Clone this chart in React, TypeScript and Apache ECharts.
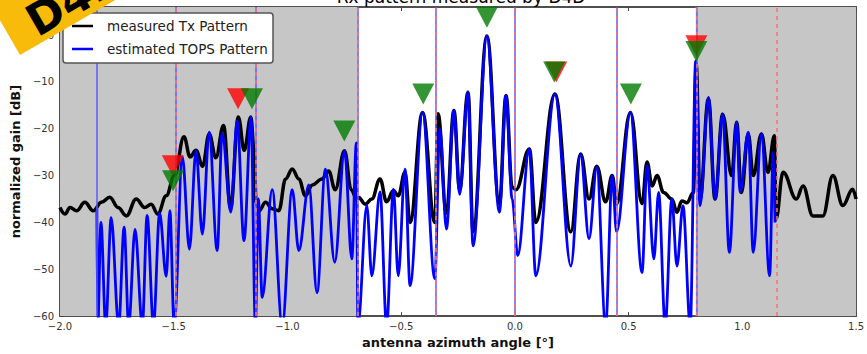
import React, { useEffect, useRef } from 'react';
import * as echarts from 'echarts';

// ---------- data ----------
const titleText = 'Rx pattern measured by D4D';
const legendNames = ['measured Tx Pattern', 'estimated TOPS Pattern'];

// estimated TOPS pattern (blue) : [azimuth deg, dB]
const topsPattern: [number, number][] = [
  [-1.838, -37], [-1.834, -62],
  [-1.82, -40], [-1.799, -62],
  [-1.775, -39], [-1.742, -62],
  [-1.718, -41], [-1.698, -62],
  [-1.67, -41.5], [-1.638, -62],
  [-1.617, -38.5], [-1.589, -62],
  [-1.562, -38], [-1.533, -51.5],
  [-1.517, -37.5], [-1.498, -62],
  [-1.462, -26], [-1.431, -45.7],
  [-1.402, -24.7], [-1.374, -42.5],
  [-1.344, -20.7], [-1.309, -46],
  [-1.287, -21], [-1.249, -37.8],
  [-1.221, -18.3], [-1.191, -43.9],
  [-1.16, -17.5], [-1.141, -62],
  [-1.128, -35], [-1.111, -56],
  [-1.067, -33], [-1.023, -62],
  [-0.979, -33], [-0.95, -46],
  [-0.906, -32], [-0.87, -55],
  [-0.833, -28.6], [-0.792, -48.5],
  [-0.749, -24.7], [-0.717, -47.8],
  [-0.697, -23], [-0.69, -62],
  [-0.651, -36.4], [-0.629, -51.4],
  [-0.593, -33.5], [-0.564, -62],
  [-0.534, -32.9], [-0.513, -51.4],
  [-0.483, -28.6], [-0.461, -53.5],
  [-0.406, -16.5], [-0.352, -52],
  [-0.33, -20], [-0.301, -41.4],
  [-0.268, -16.1], [-0.243, -34],
  [-0.206, -12.2], [-0.184, -45],
  [-0.123, -0.2], [-0.068, -37.8],
  [-0.039, -12.9], [-0.012, -35],
  [0.0125, -47.1],
  [0.0635, -24.3], [0.092, -51.4],
  [0.176, -12.6], [0.246, -49.3],
  [0.289, -25.4], [0.326, -43.5],
  [0.36, -28.2], [0.399, -62],
  [0.428, -30], [0.447, -42],
  [0.508, -16.5], [0.559, -50.7],
  [0.581, -27.9], [0.611, -47.8],
  [0.632, -33.6], [0.661, -62],
  [0.69, -35], [0.7125, -49.3],
  [0.739, -36.4], [0.771, -62],
  [0.795, -5.5], [0.814, -36.4],
  [0.851, -13.3], [0.88, -35],
  [0.9135, -16.8], [0.943, -46.4],
  [0.975, -18.6], [0.99, -33.6],
  [1.026, -20.7], [1.048, -46.4],
  [1.084, -21.1], [1.12, -51.4],
  [1.136, -25], [1.144, -40],
];

// measured Tx pattern (black)
const measuredPattern: [number, number][] = [
  [-2.0, -36.8], [-1.978, -38.2], [-1.956, -36.8], [-1.927, -37.5], [-1.891, -35.7],
  [-1.854, -37.5], [-1.818, -35.7], [-1.781, -34.6], [-1.745, -36.8], [-1.708, -38.6],
  [-1.665, -35], [-1.628, -36.8], [-1.599, -36.1], [-1.57, -38.2], [-1.533, -34.3],
  [-1.497, -30], [-1.455, -21.7], [-1.428, -26], [-1.402, -24.6], [-1.373, -28],
  [-1.344, -21.1], [-1.315, -26.2], [-1.281, -19.3], [-1.25, -37], [-1.216, -17.5],
  [-1.19, -24.6], [-1.161, -17.5], [-1.146, -25], [-1.138, -35.7],
  [-1.125, -37.5], [-1.096, -35.7], [-1.067, -37.1], [-1.038, -37.5], [-1.008, -30.7],
  [-0.979, -28.6], [-0.95, -30.7], [-0.921, -34.3], [-0.89, -32], [-0.848, -30.7],
  [-0.819, -29], [-0.79, -33], [-0.749, -24.7], [-0.72, -33], [-0.695, -35],
  [-0.688, -34.6], [-0.658, -36.1], [-0.629, -35], [-0.593, -30.7], [-0.564, -35.6],
  [-0.534, -33.2], [-0.513, -34.3], [-0.483, -29.3], [-0.461, -40], [-0.406, -16.5],
  [-0.352, -40], [-0.338, -16.8], [-0.301, -38], [-0.268, -16.1], [-0.243, -33],
  [-0.206, -12.2], [-0.184, -42], [-0.123, -0.2], [-0.068, -36], [-0.039, -12.9],
  [-0.012, -32.5], [0.005, -33], [0.0635, -24.3], [0.092, -40], [0.176, -12.6],
  [0.246, -42], [0.289, -25.4], [0.326, -35], [0.36, -28], [0.399, -35.6],
  [0.428, -30], [0.447, -36], [0.508, -16.5], [0.559, -36], [0.581, -27.1],
  [0.6035, -32.2], [0.625, -30], [0.654, -33.6], [0.69, -35], [0.7125, -37.8],
  [0.734, -35.4], [0.756, -35.8], [0.785, -33.6], [0.797, -6], [0.814, -35],
  [0.851, -13.6], [0.88, -35], [0.9135, -16.9], [0.953, -30], [0.975, -18.6],
  [0.996, -33.6], [1.026, -21.1], [1.048, -30], [1.084, -21.1], [1.1125, -29.3],
  [1.141, -21.5], [1.148, -39.3], [1.179, -29.3], [1.2375, -35], [1.267, -32.2],
  [1.31, -38.6], [1.354, -38.6], [1.398, -30], [1.442, -36.4], [1.485, -32.9],
  [1.5, -35],
];

const greenMarkers: [number, number][] = [
  [-1.503, -31.1], [-1.156, -13.6], [-0.75, -20.5], [-0.403, -12.6],
  [-0.123, 3.8], [0.173, -7.9], [0.51, -12.6], [0.798, -3.5],
];
const redMarkers: [number, number][] = [
  [-1.504, -27.9], [-1.217, -13.6], [0.182, -7.9], [0.798, -2.3],
];

const blueBoundaries = [-1.838, -1.493, -1.138, -0.692, -0.351, 0.0, 0.45, 0.795];
const redBoundaries = [-1.493, -1.138, -0.692, -0.351, 0.0, 0.45, 0.795, 1.145];
const grayRegions: [number, number][] = [[-2.0, -0.692], [0.795, 1.5]];

const X_MIN = -2, X_MAX = 1.5, X_STEP = 0.5;
const Y_MIN = -60, Y_MAX = 6, Y_STEP = 10;

const FONT = 'DejaVu Sans';
const minus = (s: string) => s.replace('-', '\u2212');

export default function App() {
  const ref = useRef<HTMLDivElement>(null);
  useEffect(() => {
    const chart = echarts.init(ref.current!, undefined, { renderer: 'svg' });
    const axisCommon = {
      axisLine: { show: true, onZero: false, lineStyle: { color: '#444', width: 1.5 } },
      axisTick: { show: true, inside: true, length: 4, lineStyle: { color: '#444', width: 1 } },
      splitLine: { show: false },
    };
    const option: any = {
      animation: false,
      backgroundColor: '#fff',
      grid: { left: 60, right: 7, top: 7, bottom: 37, show: true, borderColor: '#444', borderWidth: 1.5, backgroundColor: '#fff' },
      xAxis: [
        {
          type: 'value', min: X_MIN, max: X_MAX, interval: X_STEP, ...axisCommon,
          axisLabel: { fontFamily: FONT, fontSize: 10, color: '#333', margin: 5, formatter: (v: number) => minus(v.toFixed(1)) },
          name: 'antenna azimuth angle [°]', nameLocation: 'middle', nameGap: 19,
          nameTextStyle: { fontFamily: FONT, fontWeight: 'bold', fontSize: 13, color: '#111' },
        },
        { type: 'value', position: 'top', min: X_MIN, max: X_MAX, interval: X_STEP, ...axisCommon, axisLabel: { show: false } },
      ],
      yAxis: [
        {
          type: 'value', min: Y_MIN, max: Y_MAX, interval: Y_STEP, ...axisCommon,
          axisLabel: { fontFamily: FONT, fontSize: 10, color: '#333', margin: 6, formatter: (v: number) => (v > 0 ? '' : minus(String(v))) },
          name: 'normalized gain [dB]', nameLocation: 'middle', nameGap: 37,
          nameTextStyle: { fontFamily: FONT, fontWeight: 'bold', fontSize: 13, color: '#111' },
        },
        { type: 'value', position: 'right', min: Y_MIN, max: Y_MAX, interval: Y_STEP, ...axisCommon, axisLabel: { show: false } },
      ],
      series: [
        {
          type: 'line', data: [], z: 1, silent: true,
          markArea: {
            silent: true,
            itemStyle: { color: '#c6c6c6' },
            data: grayRegions.map(([a, b]) => [{ xAxis: a }, { xAxis: b }]),
          },
        },
        {
          type: 'line', data: [], z: 2, silent: true,
          markLine: {
            silent: true, symbol: ['none', 'none'], label: { show: false },
            lineStyle: { color: '#5a5aff', width: 1.5, type: 'solid' },
            data: blueBoundaries.map((v) => ({ xAxis: v })),
          },
        },
        {
          type: 'line', data: [], z: 2, silent: true,
          markLine: {
            silent: true, symbol: ['none', 'none'], label: { show: false },
            lineStyle: { color: '#ff7070', width: 1.5, type: [4, 4] },
            data: redBoundaries.map((v) => ({ xAxis: v })),
          },
        },
        {
          name: legendNames[0], type: 'line', data: measuredPattern, z: 3,
          showSymbol: false, smooth: 0.4, smoothMonotone: 'x',
          lineStyle: { color: '#000', width: 3.5 }, itemStyle: { color: '#000' },
        },
        {
          name: legendNames[1], type: 'line', data: topsPattern, z: 4,
          showSymbol: false, smooth: 0.35, smoothMonotone: 'x',
          lineStyle: { color: '#0000ff', width: 2.8 }, itemStyle: { color: '#0000ff' },
        },
        {
          type: 'scatter', data: redMarkers, z: 5, clip: false,
          symbol: 'triangle', symbolRotate: 180, symbolSize: [22, 21],
          itemStyle: { color: '#ff0000' },
        },
        {
          type: 'scatter', data: greenMarkers, z: 6, clip: false,
          symbol: 'triangle', symbolRotate: 180, symbolSize: [22, 21],
          itemStyle: { color: '#007a00' },
        },
      ],
      graphic: [
        {
          type: 'text', x: 461, y: 5, z: 50,
          style: { text: titleText, font: `17px "${FONT}"`, fill: '#000', textAlign: 'center', textVerticalAlign: 'bottom' },
        },
        {
          type: 'group', z: 60,
          children: [
            { type: 'rect', shape: { x: 63, y: 13, width: 210, height: 50, r: 3 }, style: { fill: '#fff', stroke: '#555', lineWidth: 1.5 }, z: 60 },
            { type: 'line', shape: { x1: 72, y1: 26, x2: 93, y2: 26 }, style: { stroke: '#000', lineWidth: 2.5 }, z: 61 },
            { type: 'line', shape: { x1: 72, y1: 49, x2: 93, y2: 49 }, style: { stroke: '#0000ff', lineWidth: 2.5 }, z: 61 },
            { type: 'text', x: 107, y: 26, z: 61, style: { text: legendNames[0], font: `13.5px "${FONT}"`, fill: '#222', textVerticalAlign: 'middle' } },
            { type: 'text', x: 107, y: 49, z: 61, style: { text: legendNames[1], font: `13.5px "${FONT}"`, fill: '#222', textVerticalAlign: 'middle' } },
          ],
        },
        {
          type: 'group', x: 20, y: 55, rotation: Math.PI / 6, z: 100,
          children: [
            { type: 'rect', shape: { x: 0, y: -140, width: 280, height: 140 }, style: { fill: '#f8bb0a' }, z: 100 },
            { type: 'text', x: 24, y: 0, z: 101, style: { text: 'D4D', font: `bold 44px "${FONT}"`, fill: '#000', textVerticalAlign: 'bottom' } },
          ],
        },
      ],
    };
    chart.setOption(option);
    return () => chart.dispose();
  }, []);
  return <div ref={ref} style={{ position: 'fixed', left: 0, top: 0, width: 867, height: 354 }} />;
}
